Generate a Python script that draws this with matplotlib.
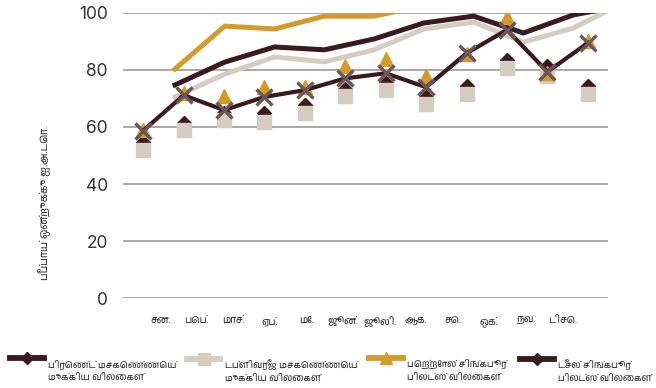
import matplotlib
matplotlib.use("Agg")
import matplotlib.pyplot as plt
import matplotlib.transforms as mtransforms
from matplotlib import font_manager
from matplotlib.ft2font import FT2Font
from matplotlib.lines import Line2D
from matplotlib.legend_handler import HandlerLine2D
import numpy as np

# ---------------- data ----------------
months = ["சன.", "பெப்.", "மாச்.", "ஏப்.", "மே.", "ஜூன்.", "ஜூலி.", "ஆக.", "செ.", "ஒக்.", "நவ.", "டிசெ."]
y_ticks = [0, 20, 40, 60, 80, 100]

# line series (10 points each)
brent_line = [74.7, 82.7, 88.0, 87.0, 90.8, 96.4, 98.8, 92.9, 99.2, 102.5]
dubai_line = [70.5, 78.5, 84.5, 82.8, 87.0, 94.3, 96.7, 89.7, 94.6, 103.4]
petrol_line = [80.3, 95.3, 94.3, 98.8, 98.8, 102.6, 104.5, 103.0, 106.0, 108.0]

# marker series (12 months)
brent_pts = [54.7, 61.4, 65.0, 64.8, 67.6, 73.3, 75.4, 70.5, 74.3, 83.5, 81.3, 74.3]
dubai_pts = [52.0, 58.8, 62.5, 61.7, 65.0, 71.0, 72.9, 68.2, 71.5, 80.8, 78.0, 71.5]
petrol_pts = [59.0, 72.0, 71.0, 74.0, 74.0, 81.3, 83.8, 77.8, 85.5, 98.5, 79.0, 90.0]
diesel_pts = [58.7, 71.1, 65.9, 70.5, 72.9, 77.0, 78.8, 73.9, 85.8, 94.0, 79.3, 89.4]

labels = ["பிரெண்ட் மசகெண்ணெய்\nமுக்கிய விலைகள்",
          "டப்ளிவரீஜ மசகெண்ணெய்\nமுக்கிய விலைகள்",
          "பெற்றோல் சிங்கபூர்\nபிலட்ஸ் விலைகள்",
          "டீசல் சிங்கபூர்\nபிலட்ஸ் விலைகள்"]
ylabel = "பீப்பாய் ஒன்றுக்கு ஐ.அ.டொ."

# ---------------- fonts ----------------
def find_tamil_font():
    best = None
    for f in font_manager.fontManager.ttflist:
        try:
            cm = FT2Font(f.fname).get_charmap()
        except Exception:
            continue
        if 0x0B9A in cm and 0x0BCD in cm:
            if "tamil" in f.name.lower():
                return f.name
            if best is None:
                best = f.name
    return best

tamil = find_tamil_font()
tfam = [tamil, "DejaVu Sans"] if tamil else ["DejaVu Sans"]

# ---------------- colours ----------------
DARK = "#3b1a1f"
BEIGE = "#d6cdc2"
GOLD = "#d49a2a"
XCOL = "#6b5759"
GRID = "#9b9b9b"

W, H = 656, 388
fig = plt.figure(figsize=(W / 100, H / 100), dpi=100)
ax = fig.add_axes([123 / W, 1 - 298.3 / H, 485 / W, (298.3 - 12.7) / H])

x = np.arange(len(months))
ax.set_xlim(-0.5, len(months) - 0.5)
ax.set_ylim(0, 100)

# line series drawn on their own evenly spaced positions
line_tr = mtransforms.Affine2D().scale(1.2314, 1).translate(0.787, 0) + ax.transData
lx = np.arange(len(brent_line))
ax.plot(lx, dubai_line, color=BEIGE, lw=3.6, transform=line_tr, zorder=2, solid_joinstyle="miter")
ax.plot(lx, brent_line, color=DARK, lw=3.6, transform=line_tr, zorder=2.1, solid_joinstyle="miter")
ax.plot(lx, petrol_line, color=GOLD, lw=3.6, transform=line_tr, zorder=2.2, solid_joinstyle="miter")

ax.plot(x, brent_pts, ls="none", marker="D", ms=7.5, color=DARK, zorder=3)
ax.plot(x, dubai_pts, ls="none", marker="s", ms=10, color=BEIGE, zorder=3.1)
ax.plot(x, petrol_pts, ls="none", marker="^", ms=10.5, color=GOLD, zorder=3.2)
ax.plot(x, diesel_pts, color=DARK, lw=3.0, zorder=3.3, solid_joinstyle="miter")
ax.plot(x, diesel_pts, ls="none", marker="x", ms=12, mew=2.4, color=XCOL, zorder=3.4)

# axes styling
for s in ax.spines.values():
    s.set_visible(False)
ax.set_yticks(y_ticks)
ax.set_yticklabels([str(v) for v in y_ticks], fontsize=12.5, color="#333333", family=["Inter", "DejaVu Sans"])
ax.yaxis.grid(True, color=GRID, lw=1.2)
ax.set_axisbelow(True)
ax.tick_params(axis="y", length=0, pad=11)
ax.set_xticks(0.42 + 0.905 * x)
ax.set_xticklabels(months, fontsize=7, color="#333333", family=tfam)
ax.tick_params(axis="x", length=0, pad=13)

fig.text(45 / W, 1 - 203 / H, ylabel, rotation=90, ha="center", va="center",
         fontsize=7.5, color="#333333", family=tfam)


class RaisedHandler(HandlerLine2D):
    def __init__(self, shift, **kw):
        super().__init__(**kw)
        self.shift = shift

    def create_artists(self, legend, orig_handle, xdescent, ydescent, width, height, fontsize, trans):
        return super().create_artists(legend, orig_handle, xdescent, ydescent - 2 * self.shift,
                                      width, height, fontsize, trans)


handles = [
    Line2D([], [], color=DARK, lw=4.2, marker="D", ms=6.5),
    Line2D([], [], color=BEIGE, lw=4.2, marker="s", ms=8),
    Line2D([], [], color=GOLD, lw=4.2, marker="^", ms=8.5),
    Line2D([], [], color=DARK, lw=4.2, marker="D", ms=6.5),
]
starts = [10, 187, 369, 520]
for h, lab, x0 in zip(handles, labels, starts):
    leg = fig.legend([h], [lab], loc="upper left", bbox_to_anchor=(x0 / W, 1 - 359 / H),
                     frameon=False, prop={"family": tfam, "size": 6.7}, handlelength=3.6,
                     handletextpad=0.45, borderpad=0, borderaxespad=0,
                     handler_map={Line2D: RaisedHandler(shift=9.0)})
    for t in leg.get_texts():
        t.set_color("#333333")
        t.set_linespacing(1.55)

fig.savefig("out.png", dpi=100)
